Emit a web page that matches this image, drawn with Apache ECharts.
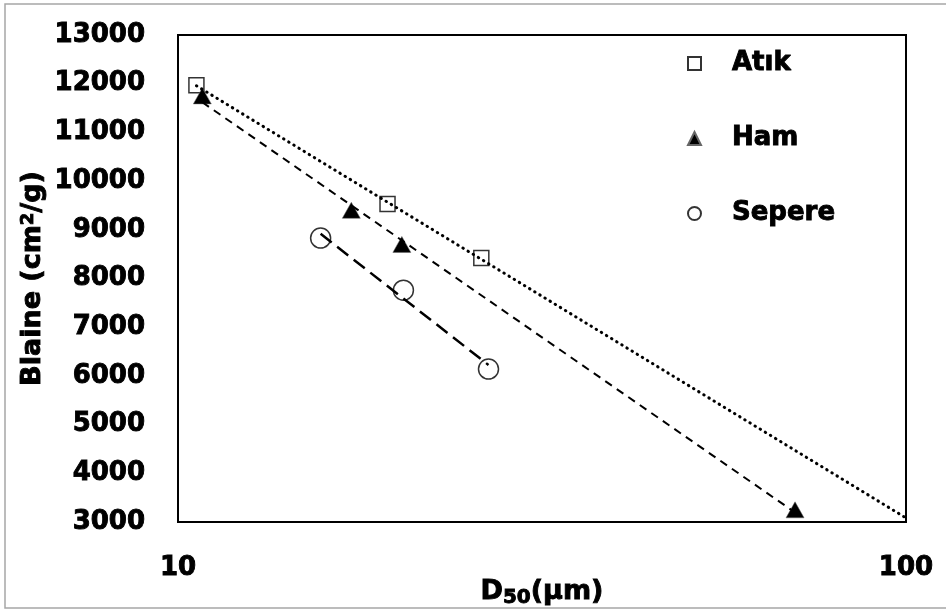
<!DOCTYPE html>
<html><head><meta charset="utf-8">
<script src="https://cdn.jsdelivr.net/npm/echarts@6/dist/echarts.min.js"></script>
<style>html,body{margin:0;padding:0;background:#fff}#c{width:946px;height:610px}</style>
</head><body><div id="c"></div>
<script>
// D50 (µm) and Blaine (cm2/g) values
const atikX = [10.6, 19.4, 26.1];
const atikY = [11970, 9530, 8420];
const hamX = [10.8, 17.3, 20.3, 70.4];
const hamY = [11750, 9400, 8700, 3250];
const sepereX = [15.7, 20.4, 26.7];
const sepereY = [8830, 7760, 6140];
const xTicks = [10, 100];
const yMin = 3000, yMax = 13000, yStep = 1000;

function pairs(xs, ys) { return xs.map((x, i) => [x, ys[i]]); }
// logarithmic trendline y = a + b*log10(x), least squares
function trend(xs, ys, x0, x1) {
  const lx = xs.map(Math.log10);
  const n = lx.length;
  const mx = lx.reduce((s, v) => s + v, 0) / n;
  const my = ys.reduce((s, v) => s + v, 0) / n;
  let sxy = 0, sxx = 0;
  for (let i = 0; i < n; i++) { sxy += (lx[i] - mx) * (ys[i] - my); sxx += (lx[i] - mx) ** 2; }
  const b = sxy / sxx, a = my - b * mx;
  return [[x0, a + b * Math.log10(x0)], [x1, a + b * Math.log10(x1)]];
}

const FONT = 'DejaVu Sans';
const heavy = { fontFamily: FONT, fontWeight: 'bold', color: '#000', textBorderColor: '#000', textBorderWidth: 0.9 };
const chart = echarts.init(document.getElementById('c'), null, { renderer: 'canvas' });
const trendCommon = { type: 'line', showSymbol: false, symbol: 'none', silent: true, z: 5, legendHoverLink: false };
chart.setOption({
  animation: false,
  backgroundColor: '#fff',
  graphic: [{ type: 'rect', shape: { x: 5, y: 4, width: 960, height: 604 }, style: { fill: 'none', stroke: '#a6a6a6', lineWidth: 1.5 }, silent: true }],
  grid: { left: 178, right: 40, top: 35, bottom: 88, outerBoundsMode: 'none', containLabel: false,
    show: true, borderColor: '#000', borderWidth: 2, backgroundColor: 'transparent' },
  legend: {
    data: [{ name: 'Atık', icon: 'rect' }, { name: 'Ham', icon: 'triangle' }, { name: 'Sepere', icon: 'circle' }],
    orient: 'vertical', left: 682, top: 45,
    itemWidth: 13, itemHeight: 13, itemGap: 48,
    textStyle: Object.assign({}, heavy, { fontSize: 26, lineHeight: 27, padding: [0, 0, 0, 26] })
  },
  xAxis: {
    type: 'log', logBase: 10, min: 10, max: 100,
    axisLine: { show: false }, axisTick: { show: false }, splitLine: { show: false },
    axisLabel: Object.assign({}, heavy, { fontSize: 26, margin: 33,
      formatter: v => xTicks.includes(Math.round(v)) ? String(Math.round(v)) : '' }),
    name: 'D{sub|50}(μm)', nameLocation: 'middle', nameGap: 53, nameMoveOverlap: false,
    nameTextStyle: Object.assign({}, heavy, { fontSize: 27,
      rich: { sub: Object.assign({}, heavy, { fontSize: 20, verticalAlign: 'top', padding: [13, 0, 0, 0] }) } })
  },
  yAxis: {
    type: 'value', min: yMin, max: yMax, interval: yStep,
    axisLine: { show: false }, axisTick: { show: false }, splitLine: { show: false },
    axisLabel: Object.assign({}, heavy, { fontSize: 26, margin: 33, formatter: v => String(v) }),
    name: 'Blaine (cm{sup|2}/g)', nameLocation: 'middle', nameGap: 132, nameMoveOverlap: false, nameRotate: 90,
    nameTextStyle: Object.assign({}, heavy, { fontSize: 27,
      rich: { sup: Object.assign({}, heavy, { fontSize: 18, verticalAlign: 'top', padding: [0, 0, 8, 0] }) } })
  },
  series: [
    { name: 'Atık', type: 'scatter', data: pairs(atikX, atikY), symbol: 'rect', symbolSize: 15, z: 3,
      itemStyle: { color: 'rgba(255,255,255,0)', borderColor: '#000', borderWidth: 1.5 } },
    { name: 'Ham', type: 'scatter', data: pairs(hamX, hamY), symbol: 'triangle', symbolSize: [18, 16], z: 3,
      itemStyle: { color: '#000', borderColor: '#666', borderWidth: 0.5, opacity: 1 } },
    { name: 'Sepere', type: 'scatter', data: pairs(sepereX, sepereY), symbol: 'circle', symbolSize: 20, z: 3,
      itemStyle: { color: 'rgba(255,255,255,0)', borderColor: '#000', borderWidth: 1.5 } },
    Object.assign({}, trendCommon, { name: 'tA', data: trend(atikX, atikY, Math.min(...atikX), 100),
      lineStyle: { color: '#000', width: 3, type: [0.5, 5.5], cap: 'round' } }),
    Object.assign({}, trendCommon, { name: 'tH', data: trend(hamX, hamY, Math.min(...hamX), Math.max(...hamX)),
      lineStyle: { color: '#000', width: 2, type: [8, 6] } }),
    Object.assign({}, trendCommon, { name: 'tS', data: trend(sepereX, sepereY, Math.min(...sepereX), Math.max(...sepereX)),
      lineStyle: { color: '#000', width: 2.5, type: [14, 7] } })
  ]
});
</script></body></html>
